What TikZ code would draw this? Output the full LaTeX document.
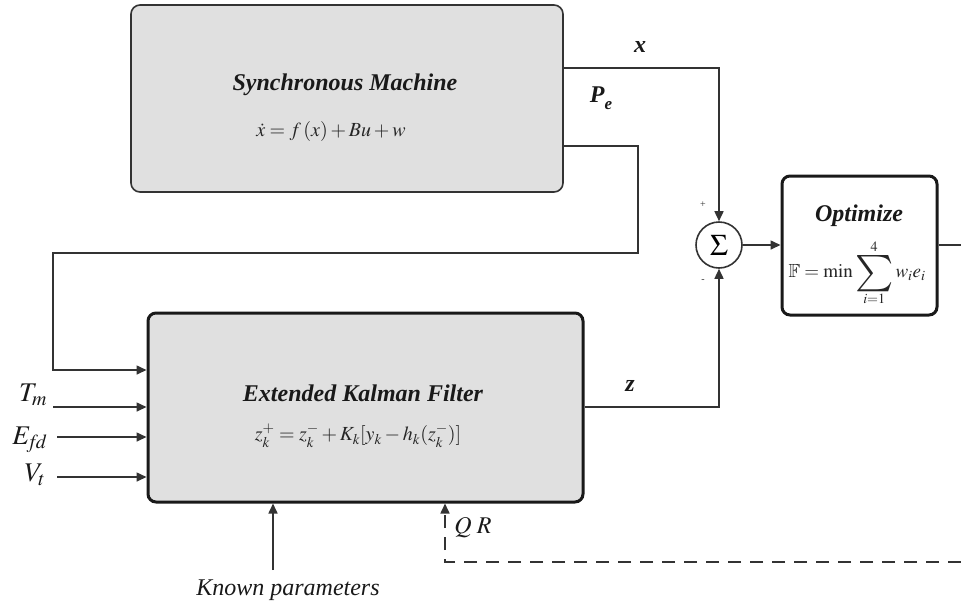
\documentclass[tikz,border=0pt]{standalone}
\usepackage{amssymb}
\usepackage{mathptmx}
\usepackage{exscale}
\usepackage{graphicx}
\usepackage[no-math]{fontspec}
\setmainfont{Liberation Serif}
\usetikzlibrary{arrows.meta}
\definecolor{boxgray}{HTML}{E0E0E0}
\definecolor{ln}{HTML}{333333}
\tikzset{
  thinbox/.style={draw=ln, line width=1.6pt, fill=boxgray, rounded corners=9pt},
  thickbox/.style={draw=black!90, line width=3pt, rounded corners=8pt},
  wire/.style={draw=ln, line width=1.6pt},
  arr/.style={wire, -{Triangle[length=10pt,width=9pt]}},
  dwire/.style={wire, dash pattern=on 13pt off 9pt},
  title/.style={font=\fontsize{24}{28}\selectfont\bfseries\itshape, text=black!90},
  eq/.style={font=\fontsize{20}{24}\selectfont, text=black!85},
  lbl/.style={font=\fontsize{27}{32}\selectfont, text=black!90},
  tiny/.style={font=\fontsize{10}{12}\selectfont, text=black!80},
}
\begin{document}
\begin{tikzpicture}[x=1pt,y=-1pt]
\useasboundingbox (0,0) rectangle (961,606);
% boxes
\node[thinbox, minimum width=432pt, minimum height=187pt] (sm) at (347,98.5) {};
\node[title] (smt) at (345,85) {Synchronous Machine};
\node[eq] (sme) at (331,131) {$\dot{x} = f\,(x) + Bu + w$};

\node[thickbox, fill=boxgray, minimum width=435pt, minimum height=189pt] (ekf) at (365.5,407.5) {};
\node[title] (ekft) at (363,393) {Extended Kalman Filter};
\node[eq] (ekfe) at (358,436) {$z_k^+ = z_k^- + K_k[y_k - h_k(z_k^-)]$};

\node[draw=ln, line width=1.6pt, circle, fill=white, minimum size=46pt, inner sep=0pt, font=\fontsize{30}{34}\selectfont] (sum) at (719,245) {$\Sigma$};
\node[tiny] (plus) at (703,205) {+};
\node[tiny] (minus) at (703,281) {-};

\node[thickbox, fill=white, minimum width=155pt, minimum height=139pt] (opt) at (859.5,245.5) {};
\node[title] (optt) at (859,216) {Optimize};
\node[eq, font=\fontsize{19}{22}\selectfont] (opte) at (857,273) {$\mathbb{F} = \min\mathop{\raisebox{-0.62ex}{\scalebox{2.1}{$\sum$}}}\limits_{i=1}^{4} w_i e_i$};

% labels
\node[title] (xl) at (640,47) {x};
\node[title] (pel) at (601,98) {P\raisebox{-7pt}{\fontsize{17}{17}\selectfont e}};
\node[title] (zl) at (630,386) {z};
\node[lbl] (tm) at (33,395) {$T_m$};
\node[lbl] (efd) at (30,440) {$E_{\!f\!d}$};
\node[lbl] (vt) at (35,475) {$V_t$};
\node[lbl, font=\fontsize{24}{28}\selectfont\itshape] (kp) at (288,590) {Known parameters};
\node[lbl, font=\fontsize{24}{28}\selectfont] (qr) at (473,528) {$Q\;R$};

% coordinates
\coordinate (p1) at (638,253);
\coordinate (p2) at (53,370);
\coordinate (tms) at (53,407);
\coordinate (efs) at (57,437);
\coordinate (vts) at (57,477);
\coordinate (kps) at (273,570);
\coordinate (qrc) at (445,562);
\coordinate (qre) at (961,562);
\coordinate (oute) at (961,245);

% connectors
\draw[arr] (sm.east |- 0,68) -| (sum.north);
\draw[arr] (sm.east |- 0,146) -| (p1) -| (p2) -- (ekf.west |- p2);
\draw[arr] (ekf.east |- 0,407) -| (sum.south);
\draw[arr] (sum.east) -- (opt.west |- sum.east);
\draw[wire] (opt.east |- oute) -- (oute);
\draw[arr] (tms) -- (ekf.west |- tms);
\draw[arr] (efs) -- (ekf.west |- efs);
\draw[arr] (vts) -- (ekf.west |- vts);
\draw[arr] (kps) -- (ekf.south -| kps);
\draw[dwire] (qre) -- (qrc) -- ([yshift=-6pt]ekf.south -| qrc);
\draw[arr] ([yshift=-6pt]ekf.south -| qrc) -- (ekf.south -| qrc);
\end{tikzpicture}
\end{document}
